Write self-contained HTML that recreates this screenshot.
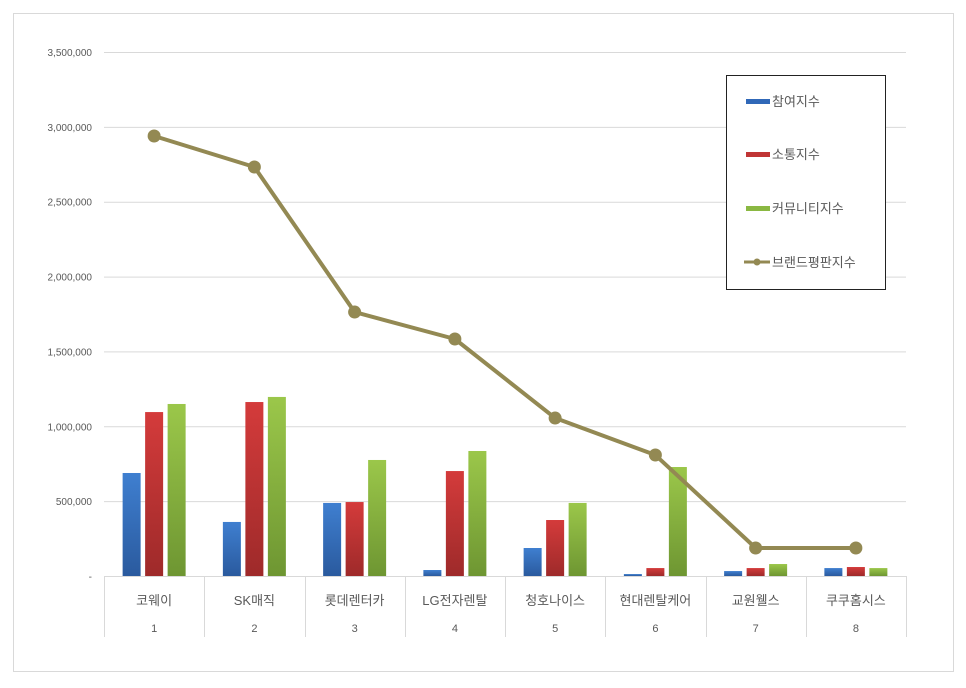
<!DOCTYPE html>
<html><head><meta charset="utf-8"><style>
body{margin:0;background:#fff;}
svg text{font-family:"Liberation Sans","Noto Sans CJK KR",sans-serif;fill:#595959;}
</style></head><body>
<svg width="966" height="683" viewBox="0 0 966 683" xmlns="http://www.w3.org/2000/svg">
<defs>
<linearGradient id="gb" x1="0" y1="0" x2="0" y2="1"><stop offset="0" stop-color="#3f7fd0"/><stop offset="1" stop-color="#2a5a9e"/></linearGradient>
<linearGradient id="gr" x1="0" y1="0" x2="0" y2="1"><stop offset="0" stop-color="#d43b3b"/><stop offset="1" stop-color="#9e2a2a"/></linearGradient>
<linearGradient id="gg" x1="0" y1="0" x2="0" y2="1"><stop offset="0" stop-color="#9bc74a"/><stop offset="1" stop-color="#6e9632"/></linearGradient>
</defs>
<rect x="13.5" y="13.5" width="940" height="658" fill="#fff" stroke="#d9d9d9"/>
<g id="grid"></g><g id="ylab"></g><g id="table"></g><g id="bars"></g><g id="line"></g>
<g>
<rect x="726.5" y="75.5" width="159" height="214" fill="#fff" stroke="#222"/>
<rect x="746" y="99" width="24" height="5" fill="#3068b8"/>
<text x="772" y="106" font-size="13">참여지수</text>
<rect x="746" y="152" width="24" height="5" fill="#c03535"/>
<text x="772" y="159" font-size="13">소통지수</text>
<rect x="746" y="206" width="24" height="5" fill="#8ab842"/>
<text x="772" y="213" font-size="13">커뮤니티지수</text>
<line x1="744" y1="262" x2="770" y2="262" stroke="#938953" stroke-width="3"/>
<circle cx="757" cy="262" r="3.5" fill="#938953"/>
<text x="772" y="267" font-size="13">브랜드평판지수</text>
</g>
</svg>
<script>
const categories=["코웨이","SK매직","롯데렌터카","LG전자렌탈","청호나이스","현대렌탈케어","교원웰스","쿠쿠홈시스"];
const participation=[688000,361000,488000,40000,187000,13000,33000,53000];
const communication=[1095000,1162000,494000,701000,374000,53000,53000,60000];
const community=[1149000,1196000,775000,835000,488000,728000,80000,53000];
const brand=[2939000,2732000,1763000,1583000,1055000,808000,187000,187000];
const yTicks=[0,500000,1000000,1500000,2000000,2500000,3000000,3500000];
const yTickLabels=["-","500,000","1,000,000","1,500,000","2,000,000","2,500,000","3,000,000","3,500,000"];

const NS="http://www.w3.org/2000/svg";
const x0=104,x1=906,yBase=576,yTop=52,yMax=3500000;
const bw=(x1-x0)/categories.length;
function y(v){return yBase-(v/yMax)*(yBase-yTop);}
function cx(i){return x0+bw*(i+0.5);}
function mk(tag,attrs,parent){const e=document.createElementNS(NS,tag);for(const k in attrs)e.setAttribute(k,attrs[k]);document.getElementById(parent).appendChild(e);return e;}

yTicks.forEach((t,i)=>{
  const g=mk('line',{x1:x0,x2:x1,y1:y(t)+0.5,y2:y(t)+0.5,stroke:'#d9d9d9'},'grid');
  
  
  const l=mk('text',{x:92,y:y(t)+4,'text-anchor':'end','font-size':'10'},'ylab');
  l.textContent=yTickLabels[i];
  
  
});
for(let i=0;i<=categories.length;i++){
  const xx=Math.round(x0+bw*i)+0.5;
  const v=mk('line',{x1:xx,x2:xx,y1:yBase,y2:637,stroke:'#d9d9d9'},'table');
  
  
}
categories.forEach((c,i)=>{
  const t=mk('text',{x:cx(i),y:605,'text-anchor':'middle','font-size':'13'},'table');
  t.textContent=c;
  
  
  const n=mk('text',{x:cx(i),y:632,'text-anchor':'middle','font-size':'11'},'table');
  n.textContent=String(i+1);
  
  
});
const series=[[participation,'url(#gb)',-22.5,'bar-participation'],[communication,'url(#gr)',0,'bar-communication'],[community,'url(#gg)',22.5,'bar-community']];
series.forEach(([vals,fill,off,name])=>{
  vals.forEach((v,i)=>{
    const b=mk('rect',{x:cx(i)+off-9,y:y(v),width:18,height:yBase-y(v),fill:fill},'bars');
    
    
  });
});
const pts=brand.map((v,i)=>cx(i)+','+y(v)).join(' ');
const pl=mk('polyline',{points:pts,fill:'none',stroke:'#938953','stroke-width':4,'stroke-linejoin':'round'},'line');


brand.forEach((v,i)=>{
  const p=mk('circle',{cx:cx(i),cy:y(v),r:6.5,fill:'#938953'},'line');
  
  
});
</script>
</body></html>
